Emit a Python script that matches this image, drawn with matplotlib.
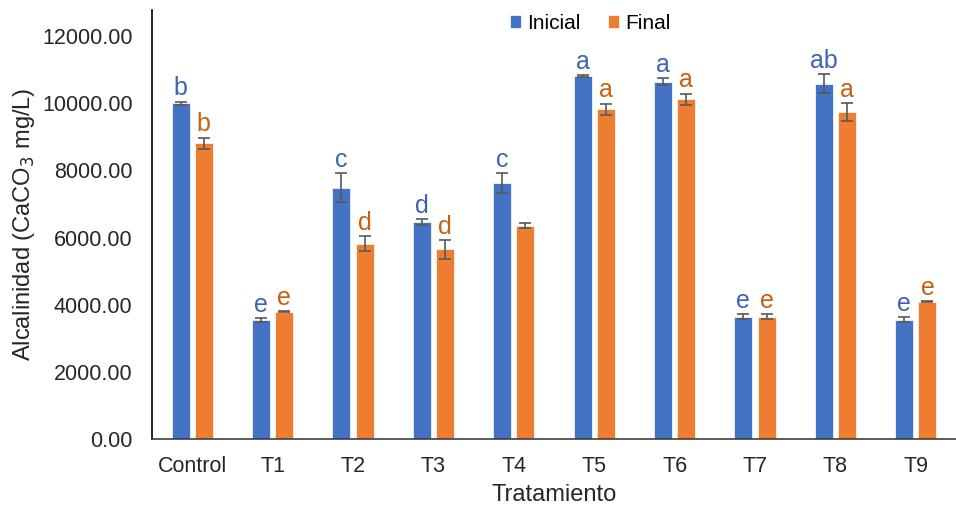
import numpy as np
import matplotlib.pyplot as plt

plt.rcParams['font.family'] = ['Liberation Sans', 'DejaVu Sans']

tratamientos = ['Control', 'T1', 'T2', 'T3', 'T4', 'T5', 'T6', 'T7', 'T8', 'T9']
inicial = [10000, 3540, 7480, 6460, 7630, 10810, 10645, 3640, 10585, 3550]
inicial_err = [50, 60, 430, 90, 290, 20, 95, 75, 270, 75]
final = [8810, 3790, 5820, 5645, 6350, 9820, 10120, 3640, 9740, 4085]
final_err = [160, 20, 220, 270, 75, 170, 165, 75, 260, 15]
letras_inicial = ['b', 'e', 'c', 'd', 'c', 'a', 'a', 'e', 'ab', 'e']
letras_final = ['b', 'e', 'd', 'd', '', 'a', 'a', 'e', 'a', 'e']

azul = '#4472C4'
naranja = '#ED7D31'
azul_txt = '#3F64B4'
naranja_txt = '#C9600F'

fig = plt.figure(figsize=(9.56, 5.09), dpi=100)
ax = fig.add_axes([0.159, 0.1375, 0.841, 0.8425])

x = np.arange(len(tratamientos))
w = 0.224
d = 0.145
err_kw = dict(ecolor='#595959', capsize=4.5, elinewidth=1.2, capthick=1.2)

ax.bar(x - d, inicial, w, yerr=inicial_err, color=azul, label='Inicial',
       error_kw=err_kw, edgecolor='white', linewidth=0.5)
ax.bar(x + d, final, w, yerr=final_err, color=naranja, label='Final',
       error_kw=err_kw, edgecolor='white', linewidth=0.5)

# letras de significancia sobre cada barra
for i in range(len(x)):
    ax.annotate(letras_inicial[i], (x[i] - d, inicial[i] + inicial_err[i]),
                xytext=(0, 1), textcoords='offset points', ha='center', va='bottom',
                fontsize=18, color=azul_txt)
    if letras_final[i]:
        ax.annotate(letras_final[i], (x[i] + d, final[i] + final_err[i]),
                    xytext=(0, 1), textcoords='offset points', ha='center', va='bottom',
                    fontsize=18, color=naranja_txt)

ax.set_xlim(-0.5, len(x) - 0.5)
ax.set_ylim(0, 12770)
ax.set_yticks(np.arange(0, 12001, 2000))
ax.set_yticklabels(['%.2f' % v for v in np.arange(0, 12001, 2000)])
ax.set_xticks(x)
ax.set_xticklabels(tratamientos)
ax.tick_params(axis='both', length=0, labelsize=15.5, colors='#262626')
ax.tick_params(axis='x', pad=12)
ax.tick_params(axis='y', pad=14)

ax.spines['top'].set_visible(False)
ax.spines['right'].set_visible(False)
ax.spines['left'].set_color('black')
ax.spines['bottom'].set_color('#404040')
ax.spines['left'].set_linewidth(1.2)
ax.spines['bottom'].set_linewidth(1.2)

ax.set_ylabel('Alcalinidad (CaCO$_3$ mg/L)', fontsize=17, color='#262626', va='center')
ax.set_xlabel('Tratamiento', fontsize=17, color='#262626', va='center')
ax.yaxis.set_label_coords(-0.159, 0.5)
ax.xaxis.set_label_coords(0.5, -0.13)

ax.legend(loc='upper center', bbox_to_anchor=(0.545, 1.035), ncol=2, frameon=False,
          fontsize=15, handlelength=0.55, handleheight=0.55, handletextpad=0.3,
          columnspacing=1.3)

fig.savefig('out.png', dpi=100)
